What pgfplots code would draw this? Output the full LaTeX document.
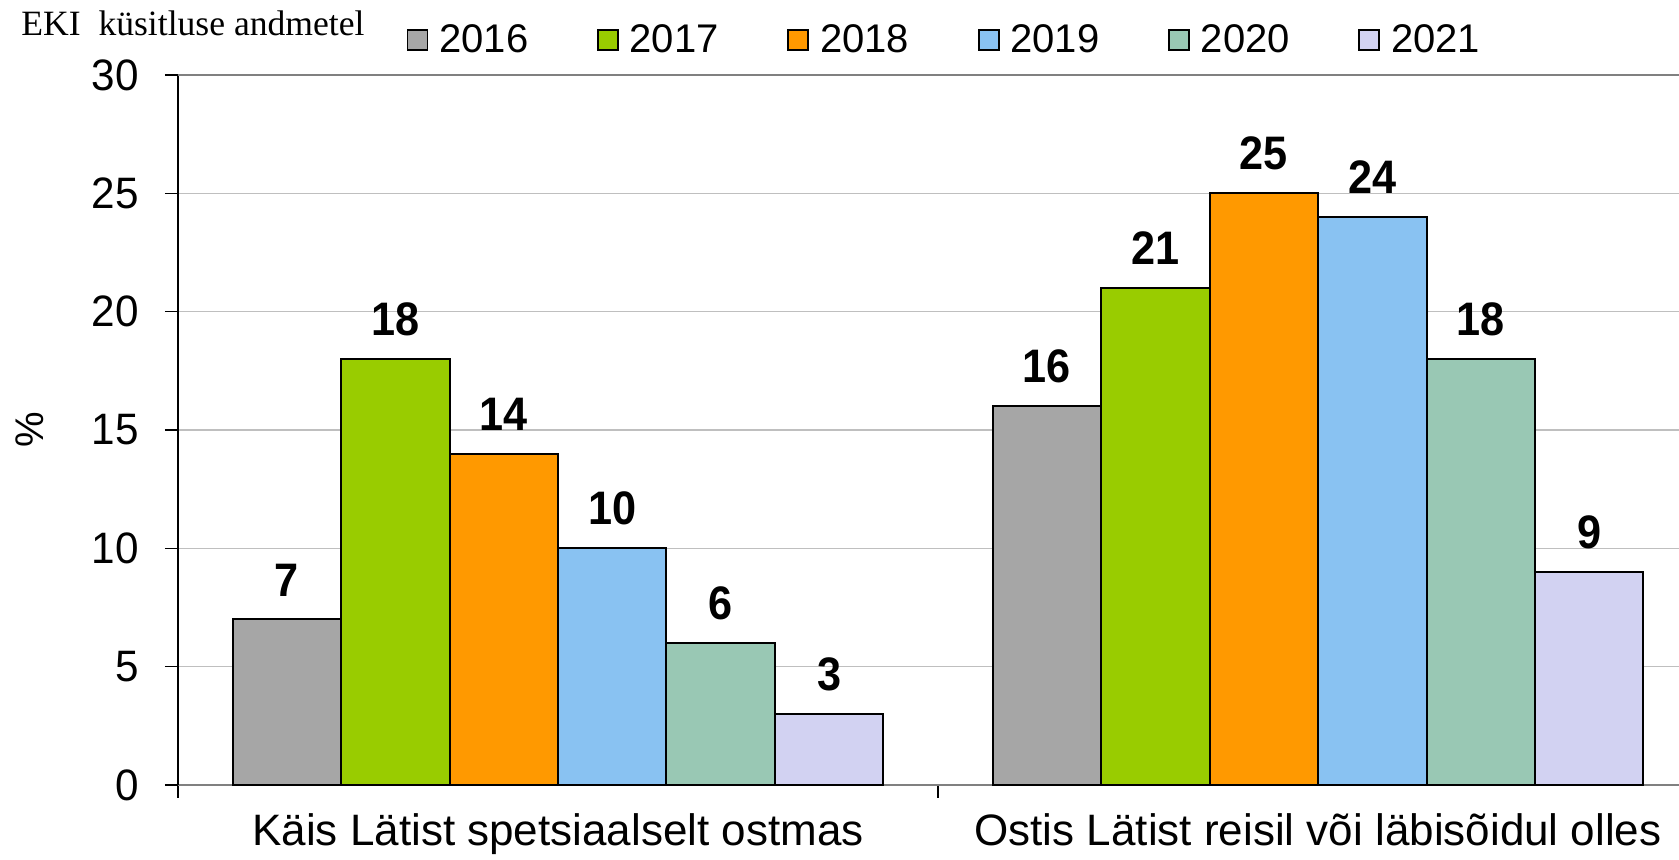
\documentclass[border=0pt]{standalone}
\usepackage{fontspec}
\setmainfont{Liberation Sans}
\newfontfamily\timesfont{Liberation Serif}
\newfontfamily\tickfont[FakeStretch=0.96]{Liberation Sans}
\newfontfamily\labfont[FakeStretch=0.92]{Liberation Sans}
\usepackage{pgfplots}
\pgfplotsset{compat=1.18}
\definecolor{c16}{HTML}{A6A6A6}
\definecolor{c17}{HTML}{99CC00}
\definecolor{c18}{HTML}{FF9900}
\definecolor{c19}{HTML}{89C2F2}
\definecolor{c20}{HTML}{99C8B4}
\definecolor{c21}{HTML}{D2D2F2}
\begin{document}
\begin{tikzpicture}
\useasboundingbox (-89pt,-37.5pt) rectangle (750.5pt,392.5pt);
\begin{axis}[
  at={(0pt,0pt)}, anchor=south west,
  scale only axis, width=750.5pt, height=355pt,
  clip=false,
  xmin=-0.5, xmax=1.475, ymin=0, ymax=30,
  ytick={0,5,...,30},
  ymajorgrids, grid style={draw=black!25, line width=0.75pt},
  axis y line*=left, axis x line*=bottom,
  x axis line style={draw=black!50, line width=1.3pt, -},
  y axis line style={draw=black, line width=0.75pt, -},
  tick align=outside, major tick length=6.5pt,
  ytick style={draw=black, line width=0.75pt},
  xtick style={draw=black, line width=0.6pt},
  xtick={-0.5,0.5}, xticklabels={},
  extra x ticks={0,1},
  extra x tick labels={Käis Lätist spetsiaalselt ostmas, Ostis Lätist reisil või läbisõidul olles},
  extra x tick style={major tick length=0pt, tick style={draw=none}, grid=none},
  xticklabel style={font=\fontsize{22}{24}\selectfont, anchor=north, inner sep=0pt, yshift=-14pt},
  yticklabel style={font=\tickfont\fontsize{22}{22}\selectfont, xshift=-9.5pt},
  /pgf/number format/assume math mode=true,
  legend columns=6,
  legend style={at={(axis description cs:0.152,1.0493)}, anchor=west, draw=none, fill=none,
    font=\fontsize{20}{20}\selectfont, inner sep=0pt,
    /tikz/every odd column/.append style={column sep=3pt},
    /tikz/every even column/.append style={column sep=31.8pt},
    nodes={inner sep=2.5pt}},
  legend image code/.code={\draw[#1, line width=0.9pt] (0pt,-5pt) rectangle (10pt,5pt);},
  nodes near coords,
  nodes near coords style={font=\labfont\bfseries\fontsize{23.5}{24}\selectfont, text=black, anchor=south, inner sep=0pt, yshift=11pt},
]
\addplot[ybar, bar width=0.1427, bar shift=0pt, fill=c16, draw=black, line width=1pt] coordinates {(-0.3568,7) (0.6432,16)};
\addplot[ybar, bar width=0.1427, bar shift=0pt, fill=c17, draw=black, line width=1pt] coordinates {(-0.2141,18) (0.7859,21)};
\addplot[ybar, bar width=0.1427, bar shift=0pt, fill=c18, draw=black, line width=1pt] coordinates {(-0.0714,14) (0.9286,25)};
\addplot[ybar, bar width=0.1427, bar shift=0pt, fill=c19, draw=black, line width=1pt] coordinates {(0.0714,10) (1.0714,24)};
\addplot[ybar, bar width=0.1427, bar shift=0pt, fill=c20, draw=black, line width=1pt] coordinates {(0.2141,6) (1.2141,18)};
\addplot[ybar, bar width=0.1427, bar shift=0pt, fill=c21, draw=black, line width=1pt] coordinates {(0.3568,3) (1.3568,9)};
\legend{2016,2017,2018,2019,2020,2021}
\draw[black!50, line width=1.3pt] (rel axis cs:0,1) -- (rel axis cs:1,1);
\end{axis}
\node[anchor=west, inner sep=0pt, font=\timesfont\fontsize{17.8}{17.8}\selectfont] at (-78.5pt,381pt) {EKI\ \ küsitluse andmetel};
\node[rotate=90, inner sep=0pt, font=\fontsize{20}{20}\selectfont] at (-74pt,177.5pt) {\%};
\end{tikzpicture}
\end{document}
